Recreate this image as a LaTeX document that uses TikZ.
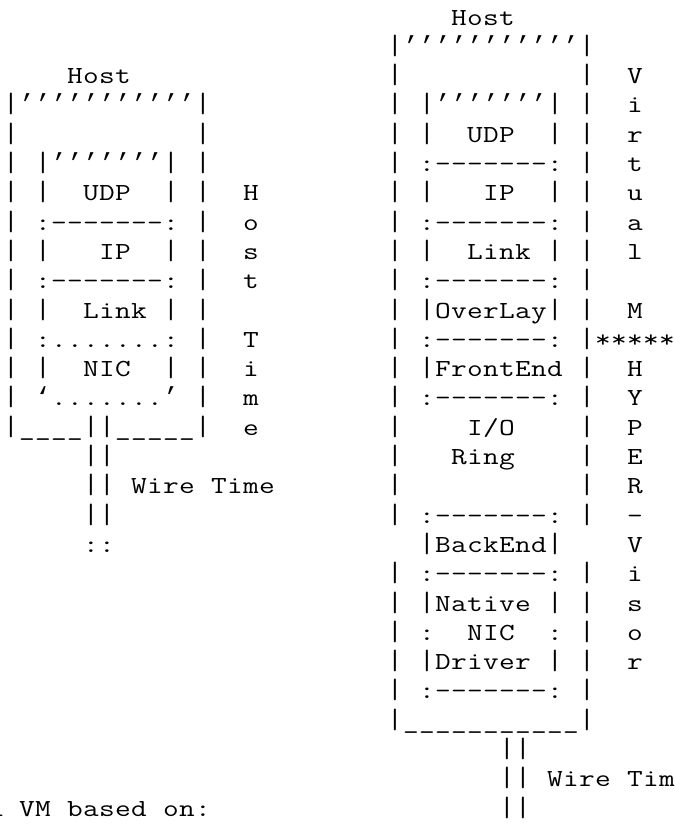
\documentclass[tikz,border=0pt]{standalone}
\usepackage{fontspec}
% Courier-like typewriter face, stretched to a 16pt character cell
\newfontfamily\asciifont[FakeStretch=1.244,Ligatures=TeXOff]{Latin Modern Mono}
% wedge-shaped quote marks
\newfontfamily\tickfont[Ligatures=TeXOff]{Liberation Mono}
\tikzset{
  art/.style={anchor=base west, inner sep=0pt, outer sep=0pt,
              font={\asciifont\fontsize{24.5pt}{29pt}\selectfont}},
}
% a vertical bar tall enough to join the bars of the rows above and below
\newcommand\vb{\scalebox{1}[1.143]{|}}
\newcommand\q{{\tickfont\fontsize{26pt}{29pt}\selectfont ’}}
\newcommand\bq{{\tickfont\fontsize{26pt}{29pt}\selectfont ‘}}
% every character sits in its own 16pt cell; ~ is an empty cell
\def\cellsEnd{\cellsEnd}
\def\cellsA#1{\ifx#1\cellsEnd\else\hbox to 16pt{\hss#1\hss}\expandafter\cellsA\fi}
\newcommand\cells[1]{\cellsA#1\cellsEnd}
% \artrow{name}{column}{row}{text}: one row of characters on the grid
\newcommand\artrow[4]{\node[art] (#1) at ({3+16*(#2)},{-(25+29.3*(#3))}) {\cells{#4}};}
\begin{document}
\begin{tikzpicture}[x=1pt,y=1pt]
\useasboundingbox (0,0) rectangle (675,-825);
\fill[white] (0,0) rectangle (675,-825);
\clip (0,0) rectangle (675,-825);

% ---- host stack (left) ----
\artrow{lhost}{4}{2}{Host}
\artrow{l3}{0}{3}{\vb\q\q\q\q\q\q\q\q\q\q\q\vb}
\artrow{l4}{0}{4}{\vb~~~~~~~~~~~\vb}
\artrow{l5}{0}{5}{\vb~\vb\q\q\q\q\q\q\q\vb~\vb}
\artrow{l6}{0}{6}{\vb~\vb~~UDP~~\vb~\vb~~H}
\artrow{l7}{0}{7}{\vb~:-------:~\vb~~o}
\artrow{l8}{0}{8}{\vb~\vb~~~IP~~\vb~\vb~~s}
\artrow{l9}{0}{9}{\vb~:-------:~\vb~~t}
\artrow{l10}{0}{10}{\vb~\vb~~Link~\vb~\vb}
\artrow{l11}{0}{11}{\vb~:.......:~\vb~~T}
\artrow{l12}{0}{12}{\vb~\vb~~NIC~~\vb~\vb~~i}
\artrow{l13}{0}{13}{\vb~\bq.......\q~\vb~~m}
\artrow{l14}{0}{14}{\vb\_\_\_\_\vb\vb\_\_\_\_\_\vb~~e}
\artrow{l15}{5}{15}{\vb\vb}
\artrow{l16}{5}{16}{\vb\vb~Wire~Time}
\artrow{l17}{5}{17}{\vb\vb}
\artrow{l18}{5}{18}{::}

% ---- virtualised stack (right) ----
\artrow{rhost}{28}{0}{Host}
\artrow{r1}{24}{1}{\vb\q\q\q\q\q\q\q\q\q\q\q\vb}
\artrow{r2}{24}{2}{\vb~~~~~~~~~~~\vb~~V}
\artrow{r3}{24}{3}{\vb~\vb\q\q\q\q\q\q\q\vb~\vb~~i}
\artrow{r4}{24}{4}{\vb~\vb~~UDP~~\vb~\vb~~r}
\artrow{r5}{24}{5}{\vb~:-------:~\vb~~t}
\artrow{r6}{24}{6}{\vb~\vb~~~IP~~\vb~\vb~~u}
\artrow{r7}{24}{7}{\vb~:-------:~\vb~~a}
\artrow{r8}{24}{8}{\vb~\vb~~Link~\vb~\vb~~l}
\artrow{r9}{24}{9}{\vb~:-------:~\vb}
\artrow{r10}{24}{10}{\vb~\vb OverLay\vb~\vb~~M}
\artrow{r11}{24}{11}{\vb~:-------:~\vb*****}
\artrow{r12}{24}{12}{\vb~\vb FrontEnd~\vb~~H}
\artrow{r13}{24}{13}{\vb~:-------:~\vb~~Y}
\artrow{r14}{24}{14}{\vb~~~~I/O~~~~\vb~~P}
\artrow{r15}{24}{15}{\vb~~~Ring~~~~\vb~~E}
\artrow{r16}{24}{16}{\vb~~~~~~~~~~~\vb~~R}
\artrow{r17}{24}{17}{\vb~:-------:~\vb~~-}
\artrow{r18}{26}{18}{\vb BackEnd\vb~~~~V}
\artrow{r19}{24}{19}{\vb~:-------:~\vb~~i}
\artrow{r20}{24}{20}{\vb~\vb Native~\vb~\vb~~s}
\artrow{r21}{24}{21}{\vb~:~~NIC~~:~\vb~~o}
\artrow{r22}{24}{22}{\vb~\vb Driver~\vb~\vb~~r}
\artrow{r23}{24}{23}{\vb~:-------:~\vb}
\artrow{r24}{24}{24}{\vb\_\_\_\_\_\_\_\_\_\_\_\vb}
\artrow{r25}{31}{25}{\vb\vb}
\artrow{r26}{31}{26}{\vb\vb~Wire~Tim}
\artrow{r27}{31}{27}{\vb\vb}

% ---- caption line ----
\artrow{note}{-1}{27}{a~VM~based~on:}
\end{tikzpicture}
\end{document}
